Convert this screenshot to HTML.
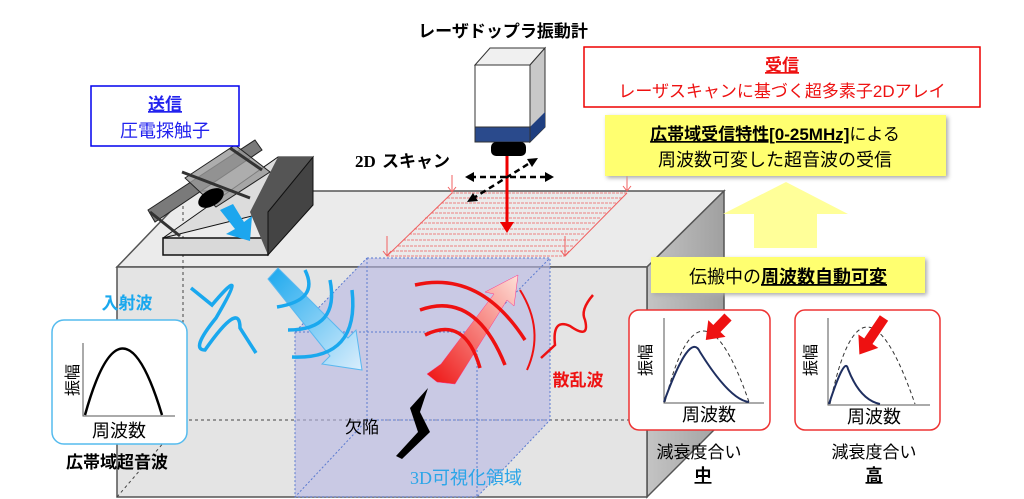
<!DOCTYPE html>
<html><head><meta charset="utf-8"><style>
body{margin:0;background:#fff;}
svg{display:block;font-family:"Liberation Sans","Noto Sans CJK JP",sans-serif;}
</style></head><body>
<svg width="1024" height="499" viewBox="0 0 1024 499" xmlns="http://www.w3.org/2000/svg">
<defs>
<linearGradient id="bg1" x1="0" y1="0" x2="1" y2="1"><stop offset="0" stop-color="#1aa8ee"/><stop offset="1" stop-color="#dbeefc"/></linearGradient>
<linearGradient id="rg1" x1="0" y1="1" x2="1" y2="0"><stop offset="0" stop-color="#ee1111"/><stop offset="1" stop-color="#fde0d8"/></linearGradient>
<linearGradient id="side" x1="0" y1="0" x2="1" y2="0"><stop offset="0" stop-color="#c4c4c4"/><stop offset="1" stop-color="#a0a0a0"/></linearGradient>
</defs>
<!-- main block -->
<polygon points="117,267 190,191 724,191 647,267" fill="#ebebeb" stroke="#555" stroke-width="1.5"/>
<polygon points="647,267 724,191 724,420 647,497" fill="url(#side)" stroke="#555" stroke-width="1.5"/>
<rect x="117" y="267" width="530" height="230" fill="#e4e4e4" stroke="#555" stroke-width="1.5"/>
<path d="M183,200 V420 M117,497 L183,420 M183,420 H724" stroke="#444" stroke-dasharray="3,3" fill="none"/>
<!-- purple volume -->
<polygon points="367,258 550,258 550,420 477,497 295,497 295,332" fill="#b8b8e4" fill-opacity="0.6"/>
<path d="M367,258 H550 V420 L477,497 H295 V332 L367,258 M295,332 H477 V497 M477,332 L550,258 M367,258 V420 H550 M367,420 L295,497" fill="none" stroke="#5a7ad0" stroke-dasharray="2,2"/>
<!-- hatching -->
<g stroke="#f06060" stroke-width="0.7" stroke-dasharray="3,1">
<line x1="452" y1="193" x2="627" y2="193"/><line x1="447" y1="198" x2="622" y2="198"/><line x1="441" y1="203" x2="617" y2="203"/><line x1="436" y1="208" x2="611" y2="208"/><line x1="431" y1="213" x2="606" y2="213"/><line x1="425" y1="218" x2="600" y2="218"/><line x1="420" y1="223" x2="595" y2="223"/><line x1="414" y1="229" x2="590" y2="229"/><line x1="409" y1="234" x2="584" y2="234"/><line x1="403" y1="240" x2="579" y2="240"/><line x1="398" y1="246" x2="573" y2="246"/><line x1="392" y1="251" x2="568" y2="251"/><line x1="387" y1="256" x2="565" y2="256"/>
</g>
<path d="M452,193 L387,256 M627,193 L565,256" stroke="#f06060" fill="none"/>
<path d="M452,175 V192 M448,187 L452,192 456,187 M627,172 V191 M623,186 L627,191 631,186 M387,236 V256 M383,251 L387,256 391,251 M565,236 V256 M561,251 L565,256 569,251" stroke="#f06060" fill="none"/>
<!-- transducer -->
<polygon points="163,238 268,238 268,255 163,255" fill="#d9d9d9" stroke="#111" stroke-width="1.5"/>
<polygon points="163,238 278,157 313,157 268,212" fill="#dcdcdc" stroke="#111"/>
<polygon points="250,212 278,157 313,157 268,255" fill="#555"/>
<polygon points="268,212 313,157 313,205 268,255" fill="#444" stroke="#111"/>
<polygon points="148,210 255,140 262,150 155,222" fill="#7a7a7a" stroke="#222"/>
<polygon points="185,178 235,145 270,172 216,207" fill="#999" fill-opacity="0.8" stroke="#222"/>
<ellipse cx="211" cy="198" rx="14" ry="8" fill="#000" transform="rotate(-30 211 198)"/>
<path d="M150,212 L180,236 M182,172 L250,198 M230,148 L262,170" stroke="#333" stroke-width="3" fill="none"/>
<polygon points="220,210 233,204 244,222 252,216 250,241 226,234 235,229" fill="#1ca6ee"/>
<!-- laser head -->
<polygon points="475,65 490,48 545,48 530,65" fill="#f0f0f0" stroke="#333"/>
<polygon points="530,65 545,48 545,127 530,142" fill="#c8c8c8" stroke="#333"/>
<polygon points="530,127 545,112 545,127 530,142" fill="#1f3f80"/>
<rect x="475" y="65" width="55" height="62" fill="#fff" stroke="#333"/>
<rect x="475" y="127" width="55" height="15" fill="#2a4a8c" stroke="#333"/>
<rect x="491" y="142" width="35" height="14" rx="5" fill="#000"/>
<line x1="507" y1="156" x2="507" y2="226" stroke="#e00" stroke-width="3"/>
<polygon points="500,222 514,222 507,233" fill="#e00"/>
<line x1="470" y1="177" x2="548" y2="177" stroke="#000" stroke-width="2.5" stroke-dasharray="6,4"/>
<polygon points="465,177 474,172 474,182" fill="#000"/><polygon points="554,177 545,172 545,182" fill="#000"/>
<line x1="472" y1="199" x2="533" y2="161" stroke="#000" stroke-width="2.5" stroke-dasharray="6,4"/>
<polygon points="467,202 473,193 478,201" fill="#000"/><polygon points="538,158 532,167 527,159" fill="#000"/>
<text x="503" y="37" font-size="17" font-weight="bold" text-anchor="middle">レーザドップラ振動計</text>
<text x="355" y="167" font-size="17" font-weight="bold" font-family="Liberation Serif,Noto Sans CJK JP,serif">2D</text>
<text x="382" y="167" font-size="17" font-weight="bold">スキャン</text>
<!-- blue box -->
<rect x="91" y="86" width="148" height="60" fill="#fff" stroke="#0000ee" stroke-width="1.5"/>
<text x="165" y="110" font-size="17" font-weight="bold" fill="#2222ee" text-anchor="middle" text-decoration="underline">送信</text>
<text x="165" y="137" font-size="18" fill="#2222ee" text-anchor="middle">圧電探触子</text>
<!-- incident waves -->
<polygon points="268,279 278,268 348,338 356,330 362,370 322,364 330,356" fill="url(#bg1)" stroke="#5ab8f0" stroke-width="1"/>
<g stroke="#1aa8ee" stroke-width="3.5" fill="none">
<path d="M305,270 Q320,300 277,307"/><path d="M330,280 Q340,330 288,330"/><path d="M352,290 Q360,360 292,357"/>
<path d="M191,288 L212,305 Q250,260 216,318 Q190,350 205,350 Q240,300 240,328 L256,353"/>
</g>
<text x="127" y="309" font-size="17" font-weight="bold" fill="#1aa8ee" text-anchor="middle">入射波</text>
<!-- scattered -->
<polygon points="427,374 441,364 494,294 485,292 518,275 514,306 507,300 455,384 437,382" fill="url(#rg1)" stroke="#f38" stroke-width="0.5"/>
<g stroke="#ee1111" stroke-width="3.5" fill="none">
<path d="M415,285 Q480,270 525,340"/><path d="M420,310 Q475,290 505,365"/><path d="M425,335 Q465,315 480,368"/>
<path d="M520,290 Q545,330 527,370" stroke-width="2"/>
<path d="M593,295 Q580,310 585,320 Q590,340 570,326 Q552,318 555,345 L541,358" stroke-width="2.5"/>
</g>
<text x="578" y="386" font-size="17" font-weight="bold" fill="#ee1111" text-anchor="middle">散乱波</text>
<!-- defect -->
<polygon points="428,388 410,408 418,432 396,456 402,459 430,432 420,412" fill="#000"/>
<text x="345" y="433" font-size="17">欠陥</text>
<text x="410" y="484" font-size="18" fill="#2aa5e8" font-family="Liberation Serif,Noto Sans CJK JP,serif">3D可視化領域</text>
<!-- left graph -->
<rect x="52" y="320" width="135" height="124" rx="12" fill="#fff" stroke="#55bbee" stroke-width="1.5"/>
<path d="M83,343 V416 H175" stroke="#555" fill="none"/>
<path d="M85,415 Q122,282 162,415" stroke="#000" stroke-width="2.5" fill="none"/>
<text x="73" y="380" font-size="16" transform="rotate(-90 73 380)" text-anchor="middle" dy="5">振幅</text>
<text x="119" y="437" font-size="18" text-anchor="middle">周波数</text>
<text x="117" y="468" font-size="17" font-weight="bold" text-anchor="middle">広帯域超音波</text>
<!-- red box receive -->
<rect x="584" y="47" width="396" height="60" fill="#fff" stroke="#e00" stroke-width="1.5"/>
<text x="782" y="71" font-size="17" font-weight="bold" fill="#ee1111" text-anchor="middle" text-decoration="underline">受信</text>
<text x="782" y="97" font-size="17" fill="#ee1111" text-anchor="middle">レーザスキャンに基づく超多素子2Dアレイ</text>
<!-- yellow boxes -->
<rect x="605" y="115" width="341" height="61" fill="#ffff70" style="filter:drop-shadow(2px 2px 2px #aaa)"/>
<text x="775" y="140" font-size="17" text-anchor="middle"><tspan font-weight="bold" text-decoration="underline">広帯域受信特性[0-25MHz]</tspan>による</text>
<text x="775" y="166" font-size="18" text-anchor="middle">周波数可変した超音波の受信</text>
<polygon points="723,214 786,182 848,214 817,214 817,248 754,248 754,214" fill="#ffff99"/>
<rect x="651" y="257" width="274" height="36" fill="#ffff70" style="filter:drop-shadow(2px 2px 2px #aaa)"/>
<text x="788" y="283" font-size="18" text-anchor="middle">伝搬中の<tspan font-weight="bold" text-decoration="underline">周波数自動可変</tspan></text>
<!-- right graphs -->
<rect x="629" y="310" width="141" height="120" rx="10" fill="#fff" stroke="#e33" stroke-width="1.5"/>
<path d="M664,318 V403 H764" stroke="#555" fill="none"/>
<path d="M665,402 Q700,260 749,402" stroke="#333" stroke-dasharray="4,3" fill="none"/>
<path d="M664,402 Q690,330 700,352 Q730,400 749,402" stroke="#1f2f60" stroke-width="2" fill="none"/>
<polygon points="0,-5 16,-5 16,-12 32,0 16,12 16,5 0,5" fill="#ee1111" transform="translate(728,317) rotate(134)"/>
<text x="646" y="360" font-size="16" transform="rotate(-90 646 360)" text-anchor="middle" dy="5">振幅</text>
<text x="709" y="421" font-size="18" text-anchor="middle">周波数</text>
<text x="699" y="458" font-size="17" text-anchor="middle">減衰度合い</text>
<text x="703" y="481" font-size="17" font-weight="bold" text-anchor="middle" text-decoration="underline">中</text>
<rect x="795" y="310" width="145" height="120" rx="10" fill="#fff" stroke="#e33" stroke-width="1.5"/>
<path d="M828,318 V405 H930" stroke="#555" fill="none"/>
<path d="M830,404 Q862,250 915,404" stroke="#333" stroke-dasharray="4,3" fill="none"/>
<path d="M829,404 Q845,355 848,369 Q860,400 880,404" stroke="#1f2f60" stroke-width="2" fill="none"/>
<polygon points="0,-5 28,-5 28,-12 44,0 28,12 28,5 0,5" fill="#ee1111" transform="translate(884,318) rotate(124)"/>
<text x="811" y="360" font-size="16" transform="rotate(-90 811 360)" text-anchor="middle" dy="5">振幅</text>
<text x="874" y="423" font-size="18" text-anchor="middle">周波数</text>
<text x="874" y="458" font-size="17" text-anchor="middle">減衰度合い</text>
<text x="874" y="481" font-size="17" font-weight="bold" text-anchor="middle" text-decoration="underline">高</text>
</svg>
</body></html>
